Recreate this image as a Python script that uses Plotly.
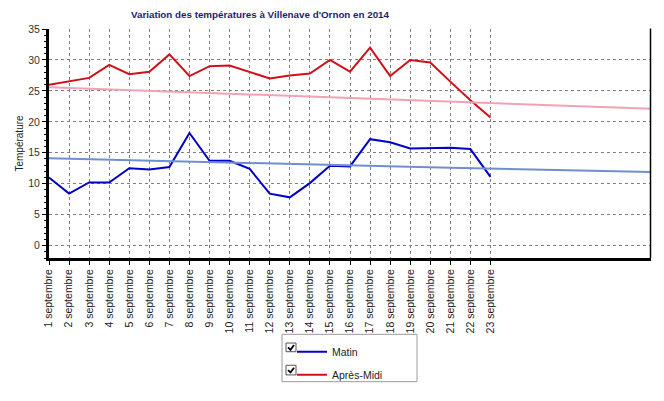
import plotly.graph_objects as go

# ---- data ----
days = list(range(1, 24))
day_labels = [f"{d} septembre" for d in days]
matin = [11.0, 8.4, 10.2, 10.2, 12.5, 12.3, 12.7, 18.2, 13.7, 13.7, 12.4, 8.4,
         7.8, 10.1, 12.9, 12.8, 17.2, 16.7, 15.7, 15.7, 15.8, 15.6, 11.1]
apres_midi = [26.0, 26.6, 27.1, 29.2, 27.7, 28.1, 30.9, 27.4, 29.0, 29.1, 28.1, 27.0,
              27.5, 27.8, 30.0, 28.1, 32.0, 27.4, 30.0, 29.6, 26.5, 23.5, 20.7]
normal_days = [1, 11, 21, 31]
normal_matin = [14.1, 13.3, 12.6, 11.9]
normal_apres = [25.6, 24.4, 23.2, 22.1]
y_ticks = [0, 5, 10, 15, 20, 25, 30, 35]

# ---- layout geometry ----
W, H = 664, 401
ML, MR, MT, MB = 49, 13, 29, 135
PW, PH = W - ML - MR, H - MT - MB


def px(x):
    return (x - ML) / PW


def py(y):
    return (H - MB - y) / PH


FONT = "Liberation Sans, Arial, sans-serif"
grid = dict(showgrid=True, gridcolor="#808080", gridwidth=1, griddash="3px,3px")

fig = go.Figure()
fig.add_trace(go.Scatter(x=days, y=matin, mode="lines", name="Matin",
                         line=dict(color="#0000C8", width=2), legendgroup="a"))
fig.add_trace(go.Scatter(x=days, y=apres_midi, mode="lines", name="Après-Midi",
                         line=dict(color="#D01018", width=2), legendgroup="b"))
fig.add_trace(go.Scatter(x=normal_days, y=normal_matin, mode="lines", showlegend=False,
                         line=dict(color="#6F8FCF", width=2)))
fig.add_trace(go.Scatter(x=normal_days, y=normal_apres, mode="lines", showlegend=False,
                         line=dict(color="#F2A2B2", width=2)))

shapes = [
    # right border
    dict(type="line", xref="paper", yref="paper", x0=px(650.5), x1=px(650.5),
         y0=py(266), y1=py(28.5), line=dict(color="black", width=1.5)),
    # legend box
    dict(type="rect", xref="paper", yref="paper", x0=px(282), x1=px(417),
         y0=py(394), y1=py(345), line=dict(color="#9A9A9A", width=1)),
]
for (top, bot) in [(354, 363), (377, 387)]:
    shapes.append(dict(type="rect", xref="paper", yref="paper", x0=px(286), x1=px(296),
                       y0=py(bot), y1=py(top), line=dict(color="#555555", width=1),
                       fillcolor="white"))
    cy = (top + bot) / 2
    path = (f"M {px(288)},{py(cy)} L {px(290.5)},{py(cy + 2.5)} "
            f"L {px(294)},{py(cy - 2.5)}")
    shapes.append(dict(type="path", xref="paper", yref="paper", path=path,
                       line=dict(color="black", width=1.8)))

fig.update_layout(
    width=W, height=H,
    margin=dict(l=ML, r=MR, t=MT, b=MB, pad=0),
    paper_bgcolor="white", plot_bgcolor="white",
    font=dict(family=FONT, size=10.5, color="#222222"),
    title=dict(text="<b>Variation des températures à Villenave d'Ornon en 2014</b>",
               font=dict(family=FONT, size=9.8, color="#1E1E6E"),
               x=px(260), xanchor="center", xref="paper",
               y=1 - 15 / H, yanchor="middle", yref="container"),
    xaxis=dict(range=[1, 31], tickmode="array", tickvals=days, ticktext=day_labels,
               tickangle=-90, ticks="outside", ticklen=4, tickcolor="black",
               showline=True, linecolor="black", linewidth=3, zeroline=False,
               tickfont=dict(size=10.5, color="#222222"), **grid),
    yaxis=dict(range=[-2, 35], tickmode="array", tickvals=y_ticks,
               ticks="outside", ticklen=4, tickcolor="black",
               minor=dict(dtick=1, tick0=0, ticks="outside", ticklen=2, tickcolor="black",
                          showgrid=False),
               showline=True, linecolor="black", linewidth=3, zeroline=False,
               title=dict(text="Température", font=dict(size=10, color="#222222"),
                          standoff=3),
               tickfont=dict(size=10.5, color="#333333"), **grid),
    legend=dict(x=px(292), y=py(348), xanchor="left", yanchor="top",
                xref="paper", yref="paper", bgcolor="rgba(0,0,0,0)", borderwidth=0,
                font=dict(size=10.5, color="#222222"), tracegroupgap=4,
                itemwidth=30),
    shapes=shapes,
    showlegend=True,
)

fig.write_html("out.html", config={"displayModeBar": False},
               post_script="document.body.style.margin='0';document.body.style.padding='0';")
